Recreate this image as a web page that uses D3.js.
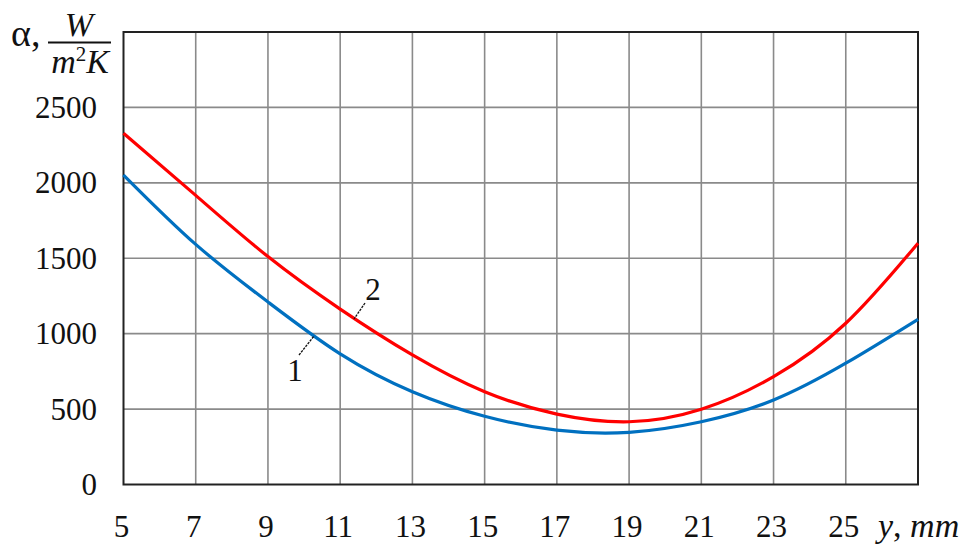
<!DOCTYPE html>
<html>
<head>
<meta charset="utf-8">
<script src="https://cdn.jsdelivr.net/npm/d3@7"></script>
<style>
  html, body { margin: 0; padding: 0; background: #fff; }
  svg { display: block; }
</style>
</head>
<body>
<svg id="chart" width="971" height="546" font-family="'Liberation Serif', 'Times New Roman', 'DejaVu Serif', serif"></svg>
<script>
// ---- data ----
const yValues = [5, 7, 9, 11, 13, 15, 17, 19, 21, 23, 25, 27];
const curve1 = [2052, 1592, 1210, 866, 615, 452, 360, 346, 416, 560, 804, 1095];
const curve2 = [2329, 1917, 1511, 1163, 859, 615, 467, 416, 499, 715, 1069, 1600];
const xTickLabels = [5, 7, 9, 11, 13, 15, 17, 19, 21, 23, 25];
const yTickLabels = [0, 500, 1000, 1500, 2000, 2500];
const seriesNames = ["1", "2"];

// ---- layout ----
const L = 123.5, R = 918, T = 32, B = 484.5;
const svg = d3.select("#chart");
const x = d3.scaleLinear().domain([5, 27]).range([L, R]);
const y = d3.scaleLinear().domain([0, 3000]).range([B, T]);
const ink = "#111";

// grid
const gridColor = "#8a8a8a";
svg.append("g").selectAll("line").data(d3.range(7, 27, 2)).join("line")
  .attr("x1", d => x(d)).attr("x2", d => x(d)).attr("y1", T).attr("y2", B)
  .attr("stroke", gridColor).attr("stroke-width", 1.6);
svg.append("g").selectAll("line").data(d3.range(500, 3000, 500)).join("line")
  .attr("x1", L).attr("x2", R).attr("y1", d => y(d)).attr("y2", d => y(d))
  .attr("stroke", gridColor).attr("stroke-width", 1.6);

// frame
svg.append("rect").attr("x", L).attr("y", T).attr("width", R - L).attr("height", B - T)
  .attr("fill", "none").attr("stroke", "#222").attr("stroke-width", 2);

// curves
const line = d3.line().x((d, i) => x(yValues[i])).y(d => y(d)).curve(d3.curveNatural);
svg.append("path").datum(curve1).attr("d", line).attr("fill", "none")
  .attr("stroke", "#0070C0").attr("stroke-width", 3.2);
svg.append("path").datum(curve2).attr("d", line).attr("fill", "none")
  .attr("stroke", "#FF0000").attr("stroke-width", 3.2);

// tick labels
svg.append("g").selectAll("text").data(yTickLabels).join("text")
  .attr("x", 97).attr("y", d => y(d)).attr("dy", "0.34em").attr("fill", ink)
  .attr("text-anchor", "end").attr("font-size", 31).text(d => d);
svg.append("g").selectAll("text").data(xTickLabels).join("text")
  .attr("x", d => x(d) - 2).attr("y", 537).attr("fill", ink)
  .attr("text-anchor", "middle").attr("font-size", 31).text(d => d);

// axis titles
const xt = svg.append("text").attr("x", 878).attr("y", 537).attr("font-size", 34).attr("fill", ink);
xt.append("tspan").attr("font-style", "italic").text("y");
xt.append("tspan").text(", ");
xt.append("tspan").attr("font-style", "italic").text("mm");

svg.append("text").attr("x", 11).attr("y", 46).attr("font-size", 38).attr("fill", ink).text("α,");
svg.append("line").attr("x1", 48).attr("x2", 111).attr("y1", 42.5).attr("y2", 42.5)
  .attr("stroke", ink).attr("stroke-width", 1.8);
svg.append("text").attr("x", 79).attr("y", 36).attr("text-anchor", "middle").attr("fill", ink)
  .attr("font-size", 34).attr("font-style", "italic").text("W");
const den = svg.append("text").attr("x", 80).attr("y", 73).attr("text-anchor", "middle").attr("font-size", 34).attr("fill", ink);
den.append("tspan").attr("font-style", "italic").text("m");
den.append("tspan").attr("font-size", 21).attr("dy", -12).text("2");
den.append("tspan").attr("font-style", "italic").attr("dy", 12).text("K");

// curve labels with leaders
const labels = [
  { name: seriesNames[0], lx: 295, ly: 381, x1: 299, y1: 355, x2: 314, y2: 336 },
  { name: seriesNames[1], lx: 373, ly: 300, x1: 365, y1: 303, x2: 354, y2: 319 }
];
labels.forEach(l => {
  svg.append("line").attr("x1", l.x1).attr("y1", l.y1).attr("x2", l.x2).attr("y2", l.y2)
    .attr("stroke", ink).attr("stroke-width", 1.3).attr("stroke-dasharray", "2.5,1");
  svg.append("text").attr("x", l.lx).attr("y", l.ly).attr("text-anchor", "middle").attr("fill", ink)
    .attr("font-size", 31).text(l.name);
});
</script>
</body>
</html>
